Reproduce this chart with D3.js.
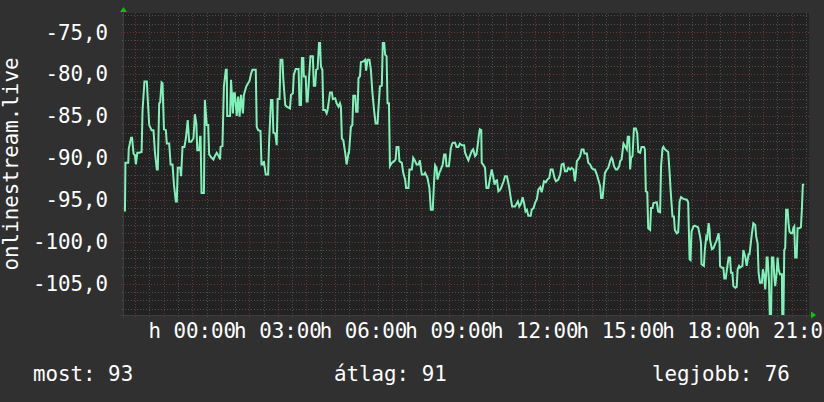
<!DOCTYPE html>
<html><head><meta charset="utf-8">
<script src="https://cdn.jsdelivr.net/npm/d3@7/dist/d3.min.js"></script>
<style>html,body{margin:0;padding:0;background:#303030;}svg{display:block}</style>
</head><body>
<svg id="chart" width="824" height="402"></svg>
<script>
// ---- data ----
const windowStart = new Date(2024, 0, 1, 21, 36, 24); // left edge of the plot
const windowMinutes = 1440;
const seriesName = "onlinestream.live";
// [minutes since window start, signal value]
const trace = [
[2,-96.4],[3,-90.6],[9,-90.6],[10,-88.9],[15,-87.6],[17,-87.6],[20,-89.5],[23,-89.7],[25,-90.8],[28,-89.4],[32,-89.4],[37,-89.3],[39,-84.3],[43,-80.9],[48,-80.9],[50,-83.1],[53,-86.1],[58,-86.7],[62,-86.7],[65,-89.3],[69,-91.4],[71,-91.4],[74,-83.5],[76,-83.4],[79,-81.0],[81,-81.1],[84,-86.6],[88,-86.7],[90,-88.3],[95,-88.3],[98,-90.8],[102,-90.8],[105,-93.2],[109,-95.2],[111,-95.2],[113,-91.2],[118,-91.2],[120,-92.2],[123,-88.7],[127,-88.7],[130,-87.7],[134,-85.5],[137,-88.1],[141,-88.1],[146,-87.7],[149,-84.8],[152,-85.9],[154,-89.1],[158,-89.1],[160,-87.5],[161,-87.5],[163,-94.2],[168,-94.2],[170,-83.1],[174,-86.1],[177,-86.1],[179,-89.6],[184,-90.0],[188,-90.2],[191,-89.8],[195,-89.4],[199,-89.8],[202,-90.2],[203,-88.7],[207,-88.6],[210,-81.5],[214,-79.5],[216,-79.5],[217,-85.0],[223,-85.0],[225,-80.7],[229,-84.7],[231,-82.3],[233,-82.3],[237,-85.0],[240,-82.7],[243,-85.1],[246,-82.5],[250,-84.7],[252,-82.5],[257,-81.5],[259,-81.3],[264,-80.8],[267,-80.0],[270,-79.5],[277,-79.5],[279,-86.3],[282,-86.7],[287,-86.8],[289,-90.8],[292,-90.8],[294,-90.4],[298,-92.0],[303,-92.0],[305,-88.1],[309,-83.1],[312,-83.1],[314,-87.0],[318,-87.1],[321,-88.5],[323,-83.0],[327,-83.0],[329,-78.3],[333,-78.3],[335,-80.7],[339,-83.7],[342,-83.9],
[349,-84.1],[351,-82.5],[355,-82.3],[357,-80.1],[361,-79.4],[367,-79.4],[369,-83.7],[372,-83.7],[374,-78.1],[377,-78.1],[378,-80.3],[382,-80.3],[384,-83.3],[386,-83.3],[389,-80.5],[392,-77.9],[397,-77.9],[399,-81.4],[402,-81.4],[404,-79.5],[407,-79.4],[410,-76.3],[412,-76.3],[414,-79.1],[417,-79.5],[419,-84.3],[423,-84.3],[426,-84.7],[428,-84.3],[431,-83.1],[433,-82.2],[437,-82.2],[439,-83.0],[444,-82.9],[447,-83.5],[451,-83.9],[454,-83.5],[456,-83.9],[458,-87.7],[461,-87.9],[465,-89.4],[468,-90.8],[472,-89.4],[473,-89.4],[477,-86.3],[480,-86.1],[482,-82.6],[486,-82.6],[488,-84.5],[491,-84.5],[493,-80.5],[496,-80.3],[498,-78.6],[503,-78.5],[507,-78.3],[509,-79.6],[512,-78.3],[516,-78.3],[519,-79.5],[522,-82.1],[526,-84.5],[529,-85.9],[533,-85.9],[535,-84.0],[538,-81.5],[542,-81.4],[544,-76.3],[547,-76.3],[549,-77.7],[552,-77.9],[554,-83.5],[557,-83.5],[559,-91.0],[563,-90.6],[568,-90.4],[571,-90.2],[573,-88.7],[577,-88.7],[579,-90.4],[584,-90.6],[587,-91.8],[591,-92.6],[593,-93.6],[598,-93.6],[600,-91.4],[605,-91.4],[608,-90.0],[612,-90.4],[615,-90.8],[619,-90.8],[622,-90.3],[626,-92.0],[631,-92.0],[633,-91.8],[638,-92.4],[642,-93.6],[645,-96.2],[649,-96.2],[650,-95.0],[652,-92.6],[654,-90.9],[657,-91.2],[659,-92.6],[663,-91.8],[666,-91.4],[670,-90.8],[673,-89.6],[676,-89.6],[678,-91.0],[683,-91.0],[687,-88.9],[690,-88.3],[692,-88.2],[696,-88.2],[699,-88.7],[703,-88.7],
[706,-88.3],[710,-88.5],[715,-88.5],[717,-89.4],[720,-89.8],[724,-90.3],[727,-89.8],[731,-89.2],[734,-89.0],[738,-89.8],[741,-89.6],[744,-88.3],[746,-87.3],[748,-86.6],[751,-86.7],[752,-90.6],[755,-90.8],[759,-91.2],[761,-93.0],[762,-93.6],[766,-93.6],[769,-92.6],[773,-91.4],[776,-92.2],[779,-93.2],[781,-92.8],[784,-92.7],[787,-94.0],[791,-93.8],[794,-93.4],[798,-92.8],[801,-92.2],[805,-92.2],[808,-93.0],[810,-93.6],[813,-94.8],[816,-95.8],[822,-95.8],[826,-95.4],[828,-95.2],[831,-95.8],[835,-95.4],[838,-94.7],[841,-95.4],[844,-96.4],[847,-96.2],[850,-96.9],[855,-96.9],[857,-96.2],[861,-96.0],[864,-95.4],[868,-94.9],[871,-93.8],[875,-93.5],[878,-94.1],[880,-93.6],[883,-92.8],[887,-92.9],[890,-92.6],[894,-92.4],[897,-91.4],[901,-91.4],[905,-92.4],[908,-92.8],[913,-92.6],[917,-92.0],[920,-90.8],[924,-90.7],[927,-91.6],[931,-91.6],[934,-91.2],[938,-91.4],[941,-91.2],[945,-91.4],[948,-92.8],[950,-91.8],[952,-90.4],[955,-90.2],[959,-89.8],[962,-89.0],[966,-89.0],[968,-89.5],[973,-89.5],[976,-90.6],[980,-90.8],[983,-91.2],[987,-91.4],[990,-91.4],[994,-92.0],[997,-92.6],[1001,-93.4],[1003,-94.8],[1006,-94.8],[1009,-93.0],[1011,-91.8],[1015,-91.4],[1018,-91.2],[1022,-90.4],[1025,-90.0],[1027,-90.2],[1030,-91.0],[1034,-91.4],[1037,-91.4],[1041,-91.0],[1043,-90.4],[1046,-90.2],[1050,-88.3],[1053,-88.6],[1057,-89.0],[1059,-87.5],[1062,-87.5],[1064,-91.4],
[1066,-90.0],[1069,-89.8],[1072,-86.5],[1076,-86.5],[1079,-87.1],[1081,-89.3],[1085,-89.4],[1088,-88.7],[1093,-88.7],[1095,-89.0],[1097,-94.0],[1100,-94.1],[1102,-98.4],[1106,-98.6],[1108,-96.0],[1111,-96.0],[1113,-95.4],[1120,-95.3],[1123,-96.4],[1127,-96.5],[1129,-91.0],[1132,-88.9],[1134,-88.7],[1137,-89.0],[1144,-89.3],[1147,-91.8],[1149,-93.8],[1153,-97.0],[1156,-97.0],[1158,-98.6],[1162,-99.0],[1165,-98.9],[1168,-95.2],[1171,-94.7],[1176,-94.9],[1183,-95.0],[1186,-95.3],[1189,-102.1],[1191,-102.2],[1193,-98.8],[1197,-98.2],[1200,-98.1],[1204,-98.2],[1207,-98.3],[1211,-99.4],[1213,-100.2],[1214,-102.7],[1219,-102.9],[1221,-101.0],[1224,-99.4],[1226,-99.6],[1229,-97.8],[1231,-98.6],[1232,-99.8],[1236,-100.9],[1239,-100.8],[1243,-100.2],[1245,-100.0],[1247,-99.6],[1250,-99.0],[1252,-100.2],[1253,-102.9],[1257,-103.1],[1260,-103.1],[1262,-104.4],[1265,-104.4],[1267,-103.5],[1271,-101.9],[1274,-101.9],[1276,-103.7],[1279,-103.7],[1281,-105.3],[1285,-105.5],[1288,-105.4],[1290,-103.3],[1293,-102.9],[1295,-103.1],[1297,-103.0],[1300,-102.9],[1302,-101.0],[1306,-101.8],[1309,-102.9],[1313,-101.5],[1315,-101.5],[1318,-100.0],[1320,-99.0],[1323,-97.8],[1327,-98.0],[1329,-99.4],[1332,-100.2],[1334,-103.7],[1337,-104.9],[1341,-104.9],[1343,-103.3],[1346,-104.1],[1348,-105.7],[1350,-103.7],[1351,-101.9],[1353,-101.9],[1356,-104.9],[1358,-110.0],[1360,-110.0],[1362,-101.9],[1365,-101.9],[1367,-104.1],[1369,-105.3],[1372,-103.7],[1374,-101.9],[1376,-103.3],[1379,-103.9],[1383,-103.9],[1384,-110.0],[1386,-110.0],[1388,-101.0],[1390,-100.8],[1392,-96.2],[1395,-96.2],[1397,-97.8],[1399,-98.8],[1402,-99.0],[1405,-99.0],[1407,-98.4],[1409,-98.2],[1411,-101.9],[1414,-101.9],[1416,-98.4],[1419,-98.4],[1423,-98.3],[1425,-96.2],[1427,-93.2],[1430,-93.2]
];
const yDomain = [-108.75, -72.73];
const yLabelValues = [-75, -80, -85, -90, -95, -100, -105];
const xLabelPrefix = "h ";
const legendLabels = ["most", "átlag", "legjobb"];
const legendValues = [93, 91, 76];

// ---- layout ----
const W = 824, H = 402;
const plot = {left: 124, right: 809, top: 13, bottom: 315};
const FONT = "'DejaVu Sans Mono', monospace";
const FS = 20.8;

const svg = d3.select("#chart");
svg.append("rect").attr("width", W).attr("height", H).attr("fill", "#303030");

const windowEnd = new Date(+windowStart + windowMinutes * 60000);
const x = d3.scaleTime().domain([windowStart, windowEnd]).range([plot.left, plot.right]);
const y = d3.scaleLinear().domain(yDomain).range([plot.bottom, plot.top]);

svg.append("rect").attr("x", plot.left).attr("y", plot.top)
  .attr("width", plot.right - plot.left).attr("height", plot.bottom - plot.top)
  .attr("fill", "#222222");

const grid = svg.append("g").attr("shape-rendering", "crispEdges");
// minor vertical (30 min)
const minorX = d3.timeMinute.every(30).range(windowStart, windowEnd).filter(d => d.getMinutes() === 30);
const majorX = d3.timeHour.every(1).range(windowStart, windowEnd);
grid.selectAll(".vmin").data(minorX).join("line")
  .attr("x1", d => Math.round(x(d)) + 0.5).attr("x2", d => Math.round(x(d)) + 0.5)
  .attr("y1", plot.top).attr("y2", plot.bottom + 2)
  .attr("stroke", "#4e4e4e").attr("stroke-dasharray", "1,2");
grid.selectAll(".vmaj").data(majorX).join("line")
  .attr("x1", d => Math.round(x(d)) + 0.5).attr("x2", d => Math.round(x(d)) + 0.5)
  .attr("y1", plot.top).attr("y2", plot.bottom + 3)
  .attr("stroke", "#6e3434").attr("stroke-dasharray", "1,2");
// horizontal: every unit
const minorY = d3.range(Math.ceil(yDomain[0]), Math.floor(yDomain[1]) + 1).filter(v => v % 5 !== 0);
grid.selectAll(".hmin").data(minorY).join("line")
  .attr("x1", plot.left - 2).attr("x2", plot.right)
  .attr("y1", d => Math.round(y(d)) + 0.5).attr("y2", d => Math.round(y(d)) + 0.5)
  .attr("stroke", "#4e4e4e").attr("stroke-dasharray", "1,2");
grid.selectAll(".hmaj").data(yLabelValues).join("line")
  .attr("x1", plot.left - 3).attr("x2", plot.right)
  .attr("y1", d => Math.round(y(d)) + 0.5).attr("y2", d => Math.round(y(d)) + 0.5)
  .attr("stroke", "#6e3434").attr("stroke-dasharray", "1,2");

// axes lines
svg.append("line").attr("x1", plot.left - 4).attr("x2", plot.right + 2)
  .attr("y1", plot.bottom + 0.5).attr("y2", plot.bottom + 0.5).attr("stroke", "#3e3e3e");
svg.append("line").attr("x1", plot.left - 0.5).attr("x2", plot.left - 0.5)
  .attr("y1", plot.top - 2).attr("y2", plot.bottom + 3).attr("stroke", "#3e3e3e");
// arrows
svg.append("path").attr("d", `M${plot.left - 4},${plot.top - 1} L${plot.left + 3},${plot.top - 1} L${plot.left - 0.5},${plot.top - 6} Z`).attr("fill", "#00cc00");
svg.append("path").attr("d", `M${plot.right + 2},${plot.bottom - 3.5} L${plot.right + 2},${plot.bottom + 3.5} L${plot.right + 7},${plot.bottom} Z`).attr("fill", "#00cc00");

// line
svg.append("clipPath").attr("id", "pc").append("rect")
  .attr("x", plot.left).attr("y", plot.top).attr("width", plot.right - plot.left).attr("height", plot.bottom - plot.top);
const line = d3.line()
  .x(d => x(new Date(+windowStart + d[0] * 60000)))
  .y(d => y(d[1]));
svg.append("path").datum(trace).attr("clip-path", "url(#pc)")
  .attr("d", line).attr("fill", "none")
  .attr("stroke", "#7ff2b8").attr("stroke-width", 2).attr("stroke-linejoin", "miter");

// y labels
const yfmt = v => d3.format(".1f")(v).replace("−", "-").replace(".", ",");
svg.append("g").selectAll("text").data(yLabelValues).join("text")
  .attr("x", 108).attr("y", d => y(d) + 7.5)
  .attr("text-anchor", "end").attr("fill", "#ffffff")
  .attr("font-family", FONT).attr("font-size", FS)
  .text(yfmt);

// x labels every 3 hours
const labelTimes = d3.timeHour.every(3).range(windowStart, windowEnd);
svg.append("g").selectAll("text").data(labelTimes).join("text")
  .attr("x", d => x(d)).attr("y", 338)
  .attr("text-anchor", "middle").attr("fill", "#ffffff")
  .attr("font-family", FONT).attr("font-size", FS)
  .text(d => xLabelPrefix + d3.timeFormat("%H:%M")(d));

// title
svg.append("text").attr("transform", `translate(18,${(plot.top + plot.bottom) / 2}) rotate(-90)`)
  .attr("text-anchor", "middle").attr("fill", "#ffffff")
  .attr("font-family", FONT).attr("font-size", FS).text(seriesName);

// legend
const legendX = [33, 334, 652];
svg.append("g").selectAll("text").data(legendLabels).join("text")
  .attr("x", (d, i) => legendX[i]).attr("y", 381)
  .attr("fill", "#ffffff").attr("font-family", FONT).attr("font-size", FS)
  .text((d, i) => `${d}: ${legendValues[i]}`);
</script>
</body></html>
